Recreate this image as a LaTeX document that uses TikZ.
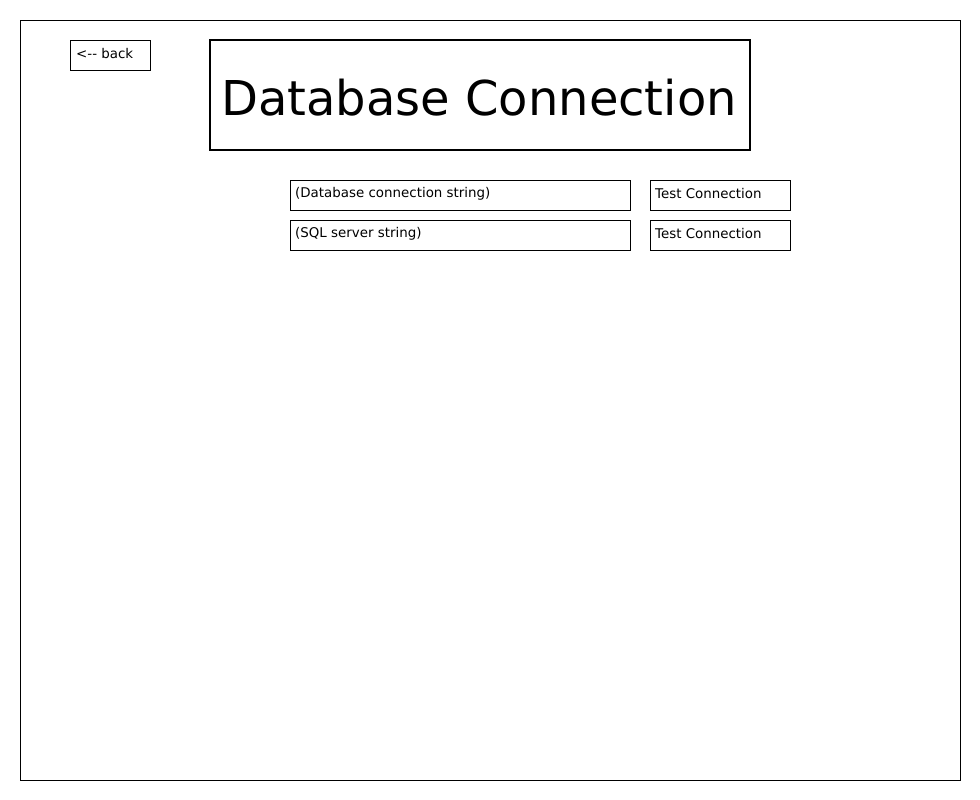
\documentclass[tikz,border=0pt]{standalone}
\usepackage{fontspec}
\setmainfont{DejaVu Sans}
\begin{document}
\begin{tikzpicture}[x=1pt,y=-1pt,
  box/.style={draw=black,line width=0.9pt},
  lbl/.style={anchor=west,inner sep=0pt,font=\fontsize{13.4}{15}\selectfont},
  ]
\useasboundingbox (0,0) rectangle (980,800);
\draw[box] (20,20) rectangle (960,780);
\node[box,minimum width=80pt,minimum height=30pt,inner sep=0pt] (back) at (110,55) {};
\node[lbl] (backt) at (76,54) {<-{}- back};
\node[draw=black,line width=1.6pt,minimum width=540pt,minimum height=110pt,inner sep=0pt] (title) at (480,95) {};
\node[inner sep=0pt,font=\fontsize{48}{56}\selectfont] (titlet) at (479,98) {Database Connection};
\node[box,minimum width=340pt,minimum height=30pt,inner sep=0pt] (f1) at (460,195) {};
\node[lbl] (f1t) at (295,194) {(Database connection string)};
\node[box,minimum width=340pt,minimum height=30pt,inner sep=0pt] (f2) at (460,235) {};
\node[lbl] (f2t) at (295,234) {(SQL server string)};
\node[box,minimum width=140pt,minimum height=30pt,inner sep=0pt] (b1) at (720,195) {};
\node[lbl] (b1t) at (655,194) {Test Connection};
\node[box,minimum width=140pt,minimum height=30pt,inner sep=0pt] (b2) at (720,235) {};
\node[lbl] (b2t) at (655,234) {Test Connection};
\end{tikzpicture}
\end{document}
